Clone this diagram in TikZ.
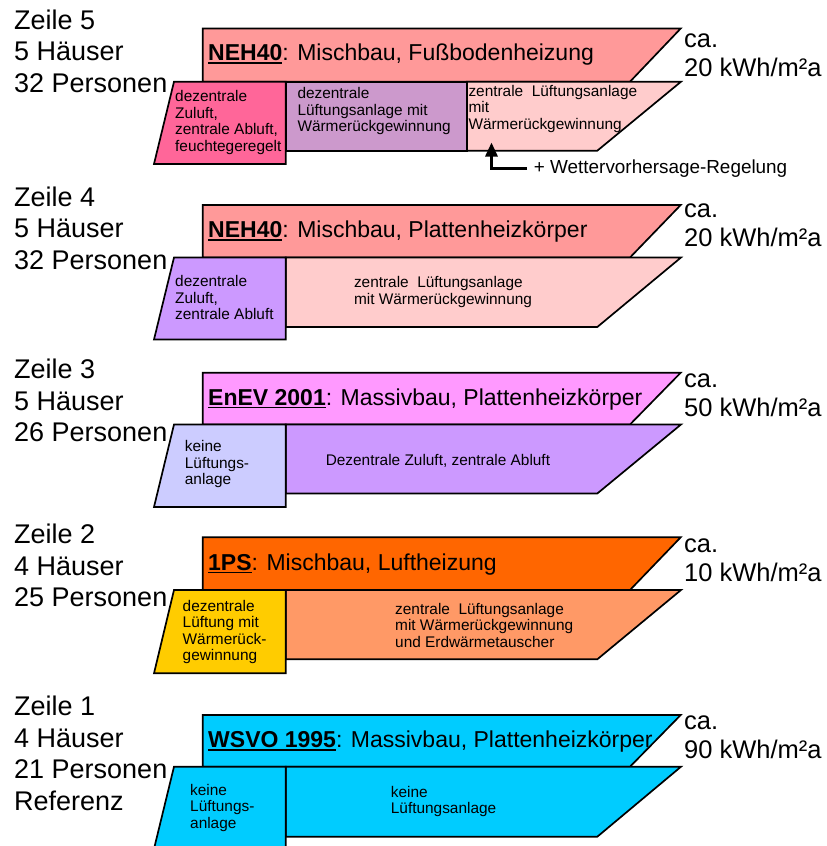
\documentclass[tikz,border=0pt]{standalone}
\usepackage{fontspec}
\setmainfont{Liberation Sans}
\usetikzlibrary{arrows.meta}

% fill colours of the panels
\definecolor{salmon}{HTML}{FF9999}
\definecolor{hotpink}{HTML}{FF6699}
\definecolor{mauve}{HTML}{CC99CC}
\definecolor{blush}{HTML}{FFCCCC}
\definecolor{lilac}{HTML}{CC99FF}
\definecolor{periwinkle}{HTML}{CCCCFF}
\definecolor{orchid}{HTML}{FF99FF}
\definecolor{deeporange}{HTML}{FF6600}
\definecolor{amber}{HTML}{FFCC00}
\definecolor{apricot}{HTML}{FF9966}
\definecolor{sky}{HTML}{00CCFF}

% bold, thickly underlined standard name
\newcommand\stdname[1]{{\bfseries\setbox0\hbox{#1}\rlap{\rule[-3.4pt]{\wd0}{1.9pt}}\box0}}

\tikzset{
  panel/.style={draw=black, line width=1.7pt, line join=miter},
  rowlabel/.style={anchor=north west, align=left, inner sep=0pt,
    font=\fontsize{27}{31.5}\selectfont, execute at begin node=\strut},
  energy/.style={anchor=north west, align=left, inner sep=0pt,
    font=\fontsize{25.5}{28.5}\selectfont, execute at begin node=\strut},
  title/.style={anchor=base west, inner sep=0pt, font=\fontsize{23}{27}\selectfont},
  note/.style={anchor=north west, align=left, inner sep=0pt,
    font=\fontsize{15.4}{16.5}\selectfont, execute at begin node=\strut},
  remark/.style={anchor=base west, inner xsep=6.7pt, inner ysep=0pt,
    font=\fontsize{18.9}{22}\selectfont},
}

\begin{document}
\begin{tikzpicture}[x=1pt,y=-1pt]
\useasboundingbox (0,0) rectangle (827,846);
\fill[white] (0,0) rectangle (827,846);

% ---------------- Zeile 5 ----------------
\draw[panel, fill=salmon] (202.7,28.5) -- (680.7,28.5) -- (630,81.7) -- (202.7,81.7) -- cycle;
\draw[panel, fill=mauve] (285.7,81.7) rectangle (467,150.7);
\draw[panel, fill=blush] (467,81.7) -- (681,81.7) -- (597.3,150.7) -- (467,150.7) -- cycle;
\draw[panel, fill=hotpink] (174,81.7) -- (285.7,81.7) -- (285.7,164) -- (154,164) -- cycle;

\node[rowlabel] (row5) at (14,9.65) {Zeile 5\\5 Häuser\\32 Personen};
\node[title] (title5) at (208,60.5) {\stdname{NEH40}: Mischbau, Fußbodenheizung};
\node[energy] (energy5) at (684,34) {ca.\\20 kWh/m²a};
\node[note] (vent5a) at (175,90.15) {dezentrale\\Zuluft,\\zentrale Abluft,\\feuchtegeregelt};
\node[note] (vent5b) at (297.3,87.5) {dezentrale\\Lüftungsanlage mit\\Wärmerückgewinnung};
\node[note] (vent5c) at (468.3,85) {zentrale\ \ Lüftungsanlage\\mit\\Wärmerückgewinnung};

\node[remark] (wv) at (527,173) {+ Wettervorhersage-Regelung};
\coordinate (wvtip) at (491.5,142.5);
\draw[line width=3pt, -{Triangle[length=14pt,width=12pt]}] (wv.west) -| (wvtip);

% ---------------- Zeile 4 ----------------
\draw[panel, fill=salmon] (202.7,205) -- (680.7,205) -- (630,257.5) -- (202.7,257.5) -- cycle;
\draw[panel, fill=blush] (285.7,257.5) -- (681,257.5) -- (597.3,327) -- (285.7,327) -- cycle;
\draw[panel, fill=lilac] (174,257.5) -- (285.7,257.5) -- (285.7,339.5) -- (154,339.5) -- cycle;

\node[rowlabel] (row4) at (14,186.25) {Zeile 4\\5 Häuser\\32 Personen};
\node[title] (title4) at (208,237.5) {\stdname{NEH40}: Mischbau, Plattenheizkörper};
\node[energy] (energy4) at (684,204) {ca.\\20 kWh/m²a};
\node[note] (vent4a) at (175,275.15) {dezentrale\\Zuluft,\\zentrale Abluft};
\node[note] (vent4b) at (353.8,276.45) {zentrale\ \ Lüftungsanlage\\mit Wärmerückgewinnung};

% ---------------- Zeile 3 ----------------
\draw[panel, fill=orchid] (202.7,372.7) -- (680.7,372.7) -- (630,424.5) -- (202.7,424.5) -- cycle;
\draw[panel, fill=lilac] (285.7,424.5) -- (681,424.5) -- (597.3,493.5) -- (285.7,493.5) -- cycle;
\draw[panel, fill=periwinkle] (174,424.5) -- (285.7,424.5) -- (285.7,507) -- (154,507) -- cycle;

\node[rowlabel] (row3) at (14,358.95) {Zeile 3\\5 Häuser\\26 Personen};
\node[title] (title3) at (208,405) {\stdname{EnEV 2001}: Massivbau, Plattenheizkörper};
\node[energy] (energy3) at (684,374) {ca.\\50 kWh/m²a};
\node[note] (vent3a) at (184.7,440.45) {keine\\Lüftungs-\\anlage};
\node[note] (vent3b) at (325.6,453.45) {Dezentrale Zuluft, zentrale Abluft};

% ---------------- Zeile 2 ----------------
\draw[panel, fill=deeporange] (202.7,537.3) -- (680.7,537.3) -- (630,590) -- (202.7,590) -- cycle;
\draw[panel, fill=apricot] (285.7,590) -- (681,590) -- (597.3,659.3) -- (285.7,659.3) -- cycle;
\draw[panel, fill=amber] (174,590) -- (285.7,590) -- (285.7,673.3) -- (154,673.3) -- cycle;

\node[rowlabel] (row2) at (14,524) {Zeile 2\\4 Häuser\\25 Personen};
\node[title] (title2) at (208,570) {\stdname{1PS}: Mischbau, Luftheizung};
\node[energy] (energy2) at (684,539) {ca.\\10 kWh/m²a};
\node[note] (vent2a) at (182.5,600) {dezentrale\\Lüftung mit\\Wärmerück-\\gewinnung};
\node[note] (vent2b) at (395,603) {zentrale\ \ Lüftungsanlage\\mit Wärmerückgewinnung\\und Erdwärmetauscher};

% ---------------- Zeile 1 ----------------
\draw[panel, fill=sky] (202.7,715) -- (680.7,715) -- (630,766.7) -- (202.7,766.7) -- cycle;
\draw[panel, fill=sky] (285.7,766.7) -- (681,766.7) -- (597.3,836.7) -- (285.7,836.7) -- cycle;
\draw[panel, fill=sky] (174,766.7) -- (285.7,766.7) -- (285.7,860) -- (151.3,860) -- cycle;

\node[rowlabel] (row1) at (14,696) {Zeile 1\\4 Häuser\\21 Personen\\Referenz};
\node[title] (title1) at (208,747.5) {\stdname{WSVO 1995}: Massivbau, Plattenheizkörper};
\node[energy] (energy1) at (684,716) {ca.\\90 kWh/m²a};
\node[note] (vent1a) at (190,784) {keine\\Lüftungs-\\anlage};
\node[note] (vent1b) at (390.7,786) {keine\\Lüftungsanlage};
\end{tikzpicture}
\end{document}
